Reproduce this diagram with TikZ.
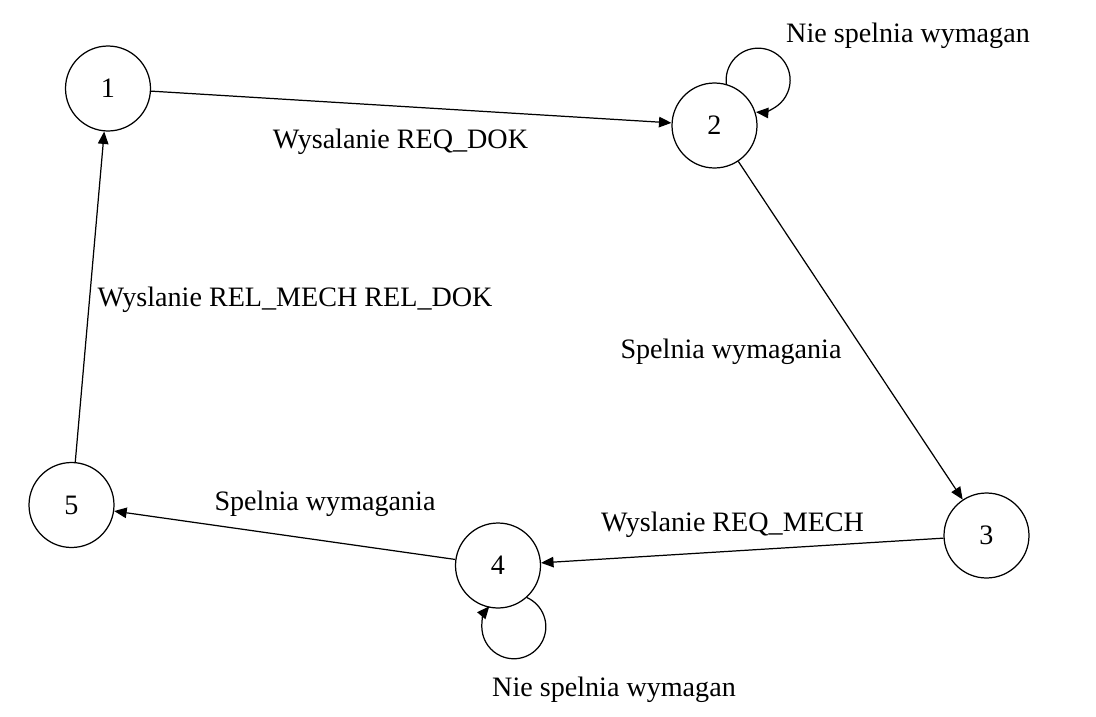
\documentclass[tikz,border=0pt]{standalone}
\usepackage{fontspec}
\setmainfont{Liberation Serif}
\usetikzlibrary{arrows.meta}

\tikzset{
    state/.style={draw, circle, minimum size=1.7cm, inner sep=0pt, line width=0.7pt},
    lbl/.style={anchor=base, inner sep=0pt},
}

\begin{document}
\begin{tikzpicture}[x=0.02cm, y=-0.02cm, >={Triangle[length=2.5mm,width=2.1mm]},
        line width=0.7pt, font=\fontsize{16}{19}\selectfont]

        \useasboundingbox (0,0) rectangle (1096,717);

        % States
        \node[state] (n1) at (108,88.5) {1};
        \node[state] (n2) at (714.5,125.5) {2};
        \node[state] (n3) at (986.5,535.5) {3};
        \node[state] (n4) at (498,565.5) {4};
        \node[state] (n5) at (71.5,505) {5};

        % Transitions between states
        \draw[->] (n1) -- (n2);
        \draw[->] (n2) -- (n3);
        \draw[->] (n3) -- (n4);
        \draw[->] (n4) -- (n5);
        \draw[->] (n5) -- (n1);

        % Self loops
        \draw[->] (n2.74) arc[start angle=187, end angle=-94, radius=0.64cm];
        \draw[->] (n4.-48) arc[start angle=66, end angle=-220, radius=0.64cm];

        % Labels
        \node[lbl] (l12) at (400.5,148) {Wysalanie REQ\_DOK};
        \node[lbl] (l22) at (908,42) {Nie spelnia wymagan};
        \node[lbl] (l23) at (731,358) {Spelnia wymagania};
        \node[lbl] (l34) at (732.5,531.5) {Wyslanie REQ\_MECH};
        \node[lbl] (l44) at (614,696.5) {Nie spelnia wymagan};
        \node[lbl] (l45) at (325,510) {Spelnia wymagania};
        \node[lbl] (l51) at (295,306.5) {Wyslanie REL\_MECH REL\_DOK};

    \end{tikzpicture}
\end{document}
